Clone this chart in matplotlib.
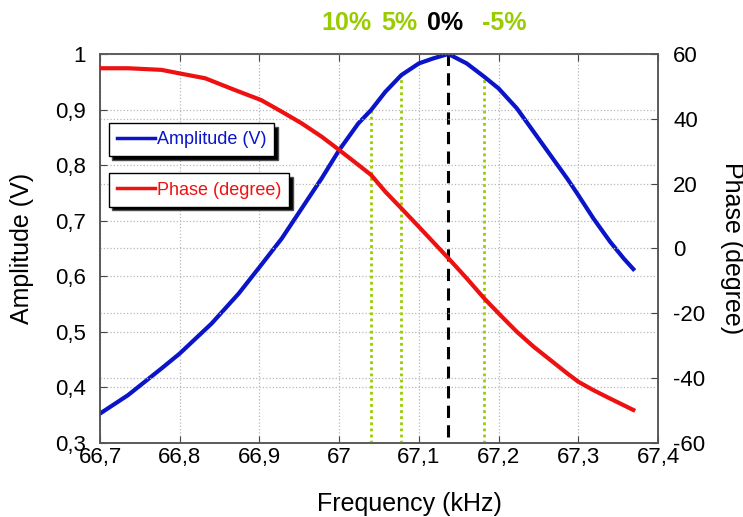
import numpy as np
import matplotlib
matplotlib.use('Agg')
import matplotlib.pyplot as plt
from matplotlib.ticker import FuncFormatter, MultipleLocator
from matplotlib.lines import Line2D
import matplotlib.transforms as mtransforms

plt.rcParams['font.family'] = ['Liberation Sans', 'DejaVu Sans']
plt.rcParams['axes.unicode_minus'] = False

# resonance sweep, amplitude channel
freq_amp = [66.700, 66.735, 66.777, 66.800, 66.840, 66.874, 66.902, 66.928, 66.953, 66.978,
            67.000, 67.024, 67.040, 67.058, 67.078, 67.100, 67.118, 67.137, 67.160, 67.182,
            67.200, 67.223, 67.244, 67.265, 67.286, 67.300, 67.319, 67.340, 67.357, 67.369]
amp = [0.353, 0.386, 0.434, 0.461, 0.515, 0.569, 0.620, 0.668, 0.722, 0.776,
       0.827, 0.875, 0.899, 0.932, 0.962, 0.983, 0.992, 1.000, 0.983, 0.959,
       0.938, 0.902, 0.860, 0.818, 0.776, 0.746, 0.704, 0.662, 0.632, 0.613]

# phase channel
freq_ph = [66.700, 66.735, 66.777, 66.800, 66.832, 66.869, 66.902, 66.928, 66.953, 66.978,
           67.000, 67.024, 67.040, 67.058, 67.078, 67.100, 67.137, 67.160, 67.182, 67.202,
           67.223, 67.244, 67.265, 67.286, 67.300, 67.319, 67.340, 67.369]
phase = [55.6, 55.6, 55.1, 54.0, 52.5, 48.9, 45.8, 42.2, 38.6, 34.5,
         30.4, 25.8, 22.7, 17.5, 12.4, 6.7, -3.0, -9.2, -15.4, -20.5,
         -25.7, -30.3, -34.4, -38.5, -41.1, -43.7, -46.3, -49.8]

# detuning markers
mark_freq = [67.040, 67.078, 67.137, 67.182]
mark_amp = [0.899, 0.962, 1.000, 0.959]
mark_label = ['10%', '5%', '0%', '-5%']
mark_label_x = [67.009, 67.075, 67.133, 67.207]

GREEN = '#99cc00'
BLUE = '#0a14c8'
RED = '#ee1111'

def comma(v, pos):
    return '{:g}'.format(round(v, 3)).replace('.', ',')

fig = plt.figure(figsize=(7.43, 5.17), dpi=100)
ax = fig.add_axes([0.1346, 0.1431, 0.751, 0.7525])
ax2 = ax.twinx()

ax.set_xlim(66.7, 67.4)
ax.set_ylim(0.3, 1.0)
ax2.set_ylim(-60, 60)
ax.xaxis.set_major_locator(MultipleLocator(0.1))
ax.yaxis.set_major_locator(MultipleLocator(0.1))
ax2.yaxis.set_major_locator(MultipleLocator(20))
ax.xaxis.set_major_formatter(FuncFormatter(comma))
ax.yaxis.set_major_formatter(FuncFormatter(comma))

ax.grid(True, color='#b8b8b8', linestyle=':', linewidth=0.9)
ax2.grid(True, axis='y', color='#b8b8b8', linestyle=':', linewidth=0.9)

ax.tick_params(axis='x', direction='in', top=True, length=5, labelsize=16, pad=3, color='#444444')
ax.tick_params(axis='y', direction='in', length=5, labelsize=16, pad=10, color='#444444')
ax2.tick_params(axis='y', direction='in', length=5, labelsize=16, pad=11, color='#444444')
for a in (ax, ax2):
    for s in a.spines.values():
        s.set_color('#555555')
        s.set_linewidth(1.1)

# marker lines from the axis floor up to the amplitude curve
for f, top, lab in zip(mark_freq, mark_amp, mark_label):
    if lab == '0%':
        ax.vlines(f, 0.31, top, colors='black', linestyles=(0, (4, 2.4)), linewidth=2.2, zorder=3)
    else:
        ax.vlines(f, 0.3, top, colors=GREEN, linestyles=(0, (1, 1.2)), linewidth=2.0, zorder=3)

ax.plot(freq_amp, amp, color=BLUE, linewidth=3.0, zorder=4)
ax2.plot(freq_ph, phase, color=RED, linewidth=3.0, zorder=4)

ax.set_xlabel('Frequency (kHz)', fontsize=18)
ax.xaxis.set_label_coords(0.554, -0.125)
ax.set_ylabel('Amplitude (V)', fontsize=18, va='center')
ax.yaxis.set_label_coords(-0.14, 0.5)
ax2.set_ylabel('Phase (degree)', fontsize=18, rotation=270, va='center', ha='center')
ax2.yaxis.set_label_coords(1.133, 0.5)

# percentage labels above the plot
trans = mtransforms.blended_transform_factory(ax.transData, fig.transFigure)
for x, lab in zip(mark_label_x, mark_label):
    ax.text(x, 0.955, lab, transform=trans, ha='center', va='center', fontsize=18,
            fontweight='bold', color='black' if lab == '0%' else GREEN)

# two boxed legend entries with hard shadows
shadow = {'ox': 2.5, 'oy': -2.5, 'facecolor': 'black', 'alpha': 1.0}
leg1 = ax2.legend([Line2D([], [], color=BLUE, linewidth=2.5)], ['Amplitude (V)'],
                  loc='upper left', bbox_to_anchor=(0.016, 0.822), fontsize=13,
                  labelcolor=[BLUE], frameon=True, fancybox=False, shadow=shadow,
                  edgecolor='black', handlelength=2.1, handletextpad=0.1,
                  borderpad=0.45, borderaxespad=0)
leg1.get_frame().set_linewidth(1.0)
ax2.add_artist(leg1)
leg2 = ax2.legend([Line2D([], [], color=RED, linewidth=2.5)], ['Phase (degree)'],
                  loc='upper left', bbox_to_anchor=(0.016, 0.693), fontsize=13,
                  labelcolor=[RED], frameon=True, fancybox=False, shadow=shadow,
                  edgecolor='black', handlelength=2.1, handletextpad=0.1,
                  borderpad=0.45, borderaxespad=0)
leg2.get_frame().set_linewidth(1.0)

fig.savefig('out.png', dpi=100)
